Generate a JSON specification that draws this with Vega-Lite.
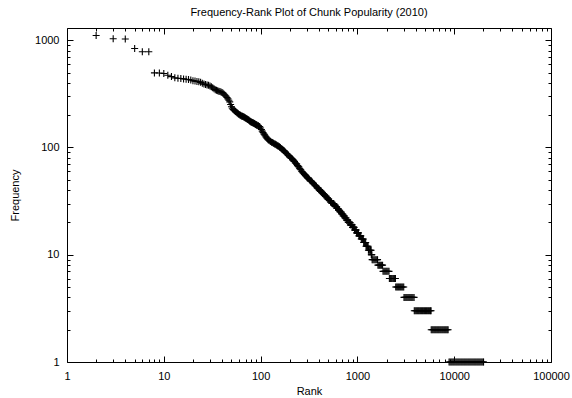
{
  "$schema": "https://vega.github.io/schema/vega-lite/v6.json",
  "width": 484,
  "height": 334,
  "autosize": {"type": "none"},
  "padding": {"left": 67, "top": 28, "right": 21, "bottom": 36},
  "background": "white",
  "config": {
    "view": {"stroke": "black", "strokeWidth": 1},
    "font": "Liberation Sans",
    "axis": {
      "domain": false,
      "grid": false,
      "tickColor": "black",
      "tickWidth": 1,
      "labelColor": "black",
      "labelFont": "Liberation Sans",
      "labelFontSize": 11,
      "titleFont": "Liberation Sans",
      "titleFontSize": 11,
      "titleFontWeight": "normal",
      "titleColor": "black",
      "labelOverlap": false,
      "labelFlush": false
    }
  },
  "title": {
    "text": "Frequency-Rank Plot of Chunk Popularity (2010)",
    "font": "Liberation Sans",
    "fontSize": 11,
    "fontWeight": "normal",
    "color": "black",
    "anchor": "middle",
    "offset": 10
  },
  "data": {
    "values": [
      {"r": 2, "f": 1107}, {"r": 3, "f": 1031}, {"r": 4, "f": 1028}, {"r": 5, "f": 836}, {"r": 6, "f": 780}, {"r": 7, "f": 780},
      {"r": 8, "f": 496}, {"r": 9, "f": 494}, {"r": 10, "f": 490}, {"r": 11, "f": 472}, {"r": 12, "f": 458}, {"r": 13, "f": 446},
      {"r": 14, "f": 442}, {"r": 15, "f": 440}, {"r": 16, "f": 436}, {"r": 17, "f": 433}, {"r": 18, "f": 430}, {"r": 19, "f": 426},
      {"r": 20, "f": 420}, {"r": 21, "f": 416}, {"r": 22, "f": 413}, {"r": 23, "f": 410}, {"r": 24, "f": 405}, {"r": 25, "f": 398},
      {"r": 26, "f": 390}, {"r": 27, "f": 386}, {"r": 28, "f": 383}, {"r": 29, "f": 380}, {"r": 30, "f": 375}, {"r": 31, "f": 368},
      {"r": 32, "f": 360}, {"r": 33, "f": 352}, {"r": 34, "f": 346}, {"r": 35, "f": 342}, {"r": 36, "f": 338}, {"r": 37, "f": 335},
      {"r": 38, "f": 332}, {"r": 39, "f": 329}, {"r": 40, "f": 325}, {"r": 41, "f": 320}, {"r": 42, "f": 314}, {"r": 43, "f": 307},
      {"r": 44, "f": 300}, {"r": 45, "f": 292}, {"r": 46, "f": 284}, {"r": 47, "f": 276}, {"r": 48, "f": 266}, {"r": 49, "f": 252},
      {"r": 50, "f": 240}, {"r": 51, "f": 232}, {"r": 52, "f": 226}, {"r": 53, "f": 223}, {"r": 54, "f": 220}, {"r": 55, "f": 217},
      {"r": 56, "f": 214}, {"r": 57, "f": 211}, {"r": 58, "f": 208}, {"r": 59, "f": 205}, {"r": 60, "f": 203}, {"r": 61, "f": 201},
      {"r": 62, "f": 200}, {"r": 63, "f": 198}, {"r": 64, "f": 196}, {"r": 65, "f": 195}, {"r": 66, "f": 194}, {"r": 67, "f": 192},
      {"r": 68, "f": 191}, {"r": 69, "f": 189}, {"r": 70, "f": 188}, {"r": 71, "f": 186}, {"r": 72, "f": 185}, {"r": 73, "f": 183},
      {"r": 74, "f": 182}, {"r": 75, "f": 180}, {"r": 76, "f": 179}, {"r": 77, "f": 177}, {"r": 78, "f": 176}, {"r": 79, "f": 174},
      {"r": 80, "f": 173}, {"r": 81, "f": 172}, {"r": 82, "f": 171}, {"r": 83, "f": 170}, {"r": 84, "f": 169}, {"r": 85, "f": 168},
      {"r": 86, "f": 167}, {"r": 87, "f": 166}, {"r": 88, "f": 165}, {"r": 89, "f": 164}, {"r": 90, "f": 163}, {"r": 91, "f": 162},
      {"r": 92, "f": 161}, {"r": 94, "f": 160}, {"r": 95, "f": 159}, {"r": 97, "f": 157}, {"r": 98, "f": 156}, {"r": 100, "f": 152},
      {"r": 102, "f": 147}, {"r": 104, "f": 142}, {"r": 106, "f": 138}, {"r": 108, "f": 134}, {"r": 110, "f": 131}, {"r": 112, "f": 128},
      {"r": 114, "f": 125}, {"r": 116, "f": 122}, {"r": 118, "f": 120}, {"r": 120, "f": 118}, {"r": 122, "f": 117}, {"r": 125, "f": 115},
      {"r": 127, "f": 114}, {"r": 130, "f": 112}, {"r": 132, "f": 111}, {"r": 135, "f": 110}, {"r": 137, "f": 109}, {"r": 140, "f": 108},
      {"r": 142, "f": 107}, {"r": 145, "f": 106}, {"r": 147, "f": 105}, {"r": 150, "f": 104}, {"r": 152, "f": 103}, {"r": 155, "f": 102},
      {"r": 157, "f": 101}, {"r": 160, "f": 100}, {"r": 163, "f": 98}, {"r": 166, "f": 97}, {"r": 169, "f": 95}, {"r": 172, "f": 94},
      {"r": 175, "f": 93}, {"r": 178, "f": 91}, {"r": 181, "f": 90}, {"r": 185, "f": 88}, {"r": 188, "f": 87}, {"r": 192, "f": 85},
      {"r": 195, "f": 84}, {"r": 199, "f": 82}, {"r": 202, "f": 81}, {"r": 206, "f": 80}, {"r": 209, "f": 79}, {"r": 213, "f": 78},
      {"r": 216, "f": 77}, {"r": 220, "f": 75}, {"r": 224, "f": 74}, {"r": 228, "f": 72}, {"r": 232, "f": 71}, {"r": 236, "f": 70},
      {"r": 240, "f": 68}, {"r": 244, "f": 67}, {"r": 248, "f": 66}, {"r": 252, "f": 64}, {"r": 256, "f": 63}, {"r": 260, "f": 62},
      {"r": 265, "f": 60}, {"r": 270, "f": 59}, {"r": 275, "f": 58}, {"r": 280, "f": 57}, {"r": 285, "f": 56}, {"r": 290, "f": 55},
      {"r": 295, "f": 54}, {"r": 300, "f": 53}, {"r": 305, "f": 52}, {"r": 310, "f": 52}, {"r": 315, "f": 51}, {"r": 320, "f": 50},
      {"r": 326, "f": 49}, {"r": 332, "f": 49}, {"r": 338, "f": 48}, {"r": 345, "f": 47}, {"r": 352, "f": 46}, {"r": 360, "f": 45},
      {"r": 366, "f": 44}, {"r": 372, "f": 44}, {"r": 378, "f": 43}, {"r": 385, "f": 42}, {"r": 391, "f": 42}, {"r": 398, "f": 41},
      {"r": 404, "f": 40}, {"r": 410, "f": 40}, {"r": 416, "f": 39}, {"r": 422, "f": 39}, {"r": 428, "f": 38}, {"r": 435, "f": 38},
      {"r": 441, "f": 37}, {"r": 448, "f": 37}, {"r": 454, "f": 36}, {"r": 460, "f": 36}, {"r": 467, "f": 35}, {"r": 475, "f": 35},
      {"r": 482, "f": 34}, {"r": 490, "f": 34}, {"r": 497, "f": 33}, {"r": 505, "f": 33}, {"r": 512, "f": 32}, {"r": 520, "f": 32},
      {"r": 528, "f": 31}, {"r": 537, "f": 31}, {"r": 546, "f": 30}, {"r": 555, "f": 30}, {"r": 563, "f": 30}, {"r": 570, "f": 30},
      {"r": 575, "f": 29}, {"r": 582, "f": 29}, {"r": 588, "f": 29}, {"r": 595, "f": 28}, {"r": 602, "f": 28}, {"r": 610, "f": 28},
      {"r": 615, "f": 27}, {"r": 622, "f": 27}, {"r": 630, "f": 27}, {"r": 638, "f": 26}, {"r": 646, "f": 26}, {"r": 655, "f": 26},
      {"r": 663, "f": 25}, {"r": 671, "f": 25}, {"r": 680, "f": 25}, {"r": 688, "f": 24}, {"r": 696, "f": 24}, {"r": 705, "f": 24},
      {"r": 713, "f": 23}, {"r": 723, "f": 23}, {"r": 735, "f": 23}, {"r": 744, "f": 22}, {"r": 754, "f": 22}, {"r": 765, "f": 22},
      {"r": 774, "f": 21}, {"r": 784, "f": 21}, {"r": 795, "f": 21}, {"r": 805, "f": 20}, {"r": 818, "f": 20}, {"r": 832, "f": 20}, {"r": 840, "f": 20},
      {"r": 847, "f": 19}, {"r": 860, "f": 19}, {"r": 872, "f": 19}, {"r": 882, "f": 19}, {"r": 890, "f": 18}, {"r": 902, "f": 18},
      {"r": 914, "f": 18}, {"r": 924, "f": 18}, {"r": 934, "f": 17}, {"r": 948, "f": 17}, {"r": 962, "f": 17}, {"r": 972, "f": 17},
      {"r": 982, "f": 16}, {"r": 996, "f": 16}, {"r": 1010, "f": 16}, {"r": 1024, "f": 16}, {"r": 1036, "f": 15}, {"r": 1052, "f": 15},
      {"r": 1068, "f": 15}, {"r": 1084, "f": 15}, {"r": 1096, "f": 14}, {"r": 1114, "f": 14}, {"r": 1132, "f": 14}, {"r": 1150, "f": 14},
      {"r": 1162, "f": 13}, {"r": 1180, "f": 13}, {"r": 1200, "f": 13}, {"r": 1218, "f": 13}, {"r": 1228, "f": 12}, {"r": 1248, "f": 12},
      {"r": 1268, "f": 12}, {"r": 1290, "f": 12}, {"r": 1300, "f": 11}, {"r": 1322, "f": 11}, {"r": 1345, "f": 11}, {"r": 1368, "f": 11},
      {"r": 1385, "f": 11}, {"r": 1392, "f": 10}, {"r": 1400, "f": 10}, {"r": 1410, "f": 10},
      {"r": 1420, "f": 9}, {"r": 1450, "f": 9}, {"r": 1485, "f": 9}, {"r": 1520, "f": 9}, {"r": 1555, "f": 9}, {"r": 1590, "f": 9}, {"r": 1615, "f": 9},
      {"r": 1630, "f": 8}, {"r": 1665, "f": 8}, {"r": 1700, "f": 8}, {"r": 1740, "f": 8}, {"r": 1780, "f": 8}, {"r": 1820, "f": 8},
      {"r": 1840, "f": 7}, {"r": 1885, "f": 7}, {"r": 1930, "f": 7}, {"r": 1975, "f": 7}, {"r": 2020, "f": 7}, {"r": 2070, "f": 7}, {"r": 2120, "f": 7},
      {"r": 2140, "f": 6}, {"r": 2190, "f": 6}, {"r": 2240, "f": 6}, {"r": 2290, "f": 6}, {"r": 2350, "f": 6}, {"r": 2410, "f": 6}, {"r": 2470, "f": 6},
      {"r": 2490, "f": 5}, {"r": 2550, "f": 5}, {"r": 2610, "f": 5}, {"r": 2670, "f": 5}, {"r": 2735, "f": 5}, {"r": 2800, "f": 5},
      {"r": 2870, "f": 5}, {"r": 2940, "f": 5}, {"r": 3010, "f": 5},
      {"r": 3030, "f": 4}, {"r": 3100, "f": 4}, {"r": 3175, "f": 4}, {"r": 3250, "f": 4}, {"r": 3330, "f": 4}, {"r": 3410, "f": 4},
      {"r": 3490, "f": 4}, {"r": 3575, "f": 4}, {"r": 3660, "f": 4}, {"r": 3750, "f": 4}, {"r": 3850, "f": 4},
      {"r": 3870, "f": 3}, {"r": 3960, "f": 3}, {"r": 4060, "f": 3}, {"r": 4160, "f": 3}, {"r": 4260, "f": 3}, {"r": 4360, "f": 3},
      {"r": 4470, "f": 3}, {"r": 4580, "f": 3}, {"r": 4690, "f": 3}, {"r": 4800, "f": 3}, {"r": 4920, "f": 3}, {"r": 5040, "f": 3},
      {"r": 5160, "f": 3}, {"r": 5280, "f": 3}, {"r": 5410, "f": 3}, {"r": 5540, "f": 3}, {"r": 5680, "f": 3}, {"r": 5770, "f": 3},
      {"r": 5790, "f": 2}, {"r": 5930, "f": 2}, {"r": 6070, "f": 2}, {"r": 6220, "f": 2}, {"r": 6370, "f": 2}, {"r": 6520, "f": 2},
      {"r": 6680, "f": 2}, {"r": 6840, "f": 2}, {"r": 7000, "f": 2}, {"r": 7170, "f": 2}, {"r": 7340, "f": 2}, {"r": 7520, "f": 2},
      {"r": 7700, "f": 2}, {"r": 7890, "f": 2}, {"r": 8080, "f": 2}, {"r": 8270, "f": 2}, {"r": 8470, "f": 2}, {"r": 8650, "f": 2},
      {"r": 8850, "f": 1}, {"r": 9060, "f": 1}, {"r": 9280, "f": 1}, {"r": 9500, "f": 1}, {"r": 9730, "f": 1}, {"r": 9960, "f": 1},
      {"r": 10200, "f": 1}, {"r": 10450, "f": 1}, {"r": 10700, "f": 1}, {"r": 10960, "f": 1}, {"r": 11220, "f": 1}, {"r": 11490, "f": 1},
      {"r": 11770, "f": 1}, {"r": 12050, "f": 1}, {"r": 12340, "f": 1}, {"r": 12640, "f": 1}, {"r": 12940, "f": 1}, {"r": 13250, "f": 1},
      {"r": 13570, "f": 1}, {"r": 13900, "f": 1}, {"r": 14230, "f": 1}, {"r": 14570, "f": 1}, {"r": 14920, "f": 1}, {"r": 15280, "f": 1},
      {"r": 15650, "f": 1}, {"r": 16030, "f": 1}, {"r": 16410, "f": 1}, {"r": 16800, "f": 1}, {"r": 17210, "f": 1}, {"r": 17620, "f": 1},
      {"r": 18040, "f": 1}, {"r": 18470, "f": 1}, {"r": 18920, "f": 1}, {"r": 19370, "f": 1}, {"r": 19840, "f": 1}, {"r": 20100, "f": 1}
    ]
  },
  "layer": [
    {
      "mark": {"type": "point", "shape": "M-1,0H1M0,-1V1", "size": 49, "filled": false, "stroke": "black", "strokeWidth": 1.1, "opacity": 1, "clip": false},
      "encoding": {
        "x": {
          "field": "r", "type": "quantitative",
          "scale": {"type": "log", "domain": [1, 100000], "nice": false},
          "axis": {
            "orient": "bottom",
            "title": "Rank",
            "titleY": 29,
            "titleBaseline": "middle",
            "values": [1,2,3,4,5,6,7,8,9,10,20,30,40,50,60,70,80,90,100,200,300,400,500,600,700,800,900,1000,2000,3000,4000,5000,6000,7000,8000,9000,10000,20000,30000,40000,50000,60000,70000,80000,90000,100000],
            "format": "d",
            "labelExpr": "indexof([1,10,100,1000,10000,100000], datum.value) >= 0 ? datum.label : ''",
            "tickSize": {"condition": {"test": "indexof([1,10,100,1000,10000,100000], datum.value) >= 0", "value": -6}, "value": -3},
            "labelPadding": 14
          }
        },
        "y": {
          "field": "f", "type": "quantitative",
          "scale": {"type": "log", "domain": [1, 1300], "nice": false},
          "axis": {
            "orient": "left",
            "title": "Frequency",
            "titleX": -52,
            "titleY": 167,
            "titleAngle": -90,
            "titleBaseline": "middle",
            "titleAlign": "center",
            "values": [1,2,3,4,5,6,7,8,9,10,20,30,40,50,60,70,80,90,100,200,300,400,500,600,700,800,900,1000],
            "format": "d",
            "labelExpr": "indexof([1,10,100,1000], datum.value) >= 0 ? datum.label : ''",
            "tickSize": {"condition": {"test": "indexof([1,10,100,1000], datum.value) >= 0", "value": -6}, "value": -3},
            "labelPadding": 14
          }
        }
      }
    },
    {
      "mark": {"type": "point", "opacity": 0},
      "encoding": {
        "x": {
          "field": "r", "type": "quantitative",
          "scale": {"type": "log", "domain": [1, 100000], "nice": false},
          "axis": {
            "orient": "top",
            "title": null,
            "labels": false,
            "values": [1,2,3,4,5,6,7,8,9,10,20,30,40,50,60,70,80,90,100,200,300,400,500,600,700,800,900,1000,2000,3000,4000,5000,6000,7000,8000,9000,10000,20000,30000,40000,50000,60000,70000,80000,90000,100000],
            "tickSize": {"condition": {"test": "indexof([1,10,100,1000,10000,100000], datum.value) >= 0", "value": -6}, "value": -3}
          }
        },
        "y": {
          "field": "f", "type": "quantitative",
          "scale": {"type": "log", "domain": [1, 1300], "nice": false},
          "axis": {
            "orient": "right",
            "title": null,
            "labels": false,
            "values": [1,2,3,4,5,6,7,8,9,10,20,30,40,50,60,70,80,90,100,200,300,400,500,600,700,800,900,1000],
            "tickSize": {"condition": {"test": "indexof([1,10,100,1000], datum.value) >= 0", "value": -6}, "value": -3}
          }
        }
      }
    }
  ],
  "resolve": {"axis": {"x": "independent", "y": "independent"}}
}
